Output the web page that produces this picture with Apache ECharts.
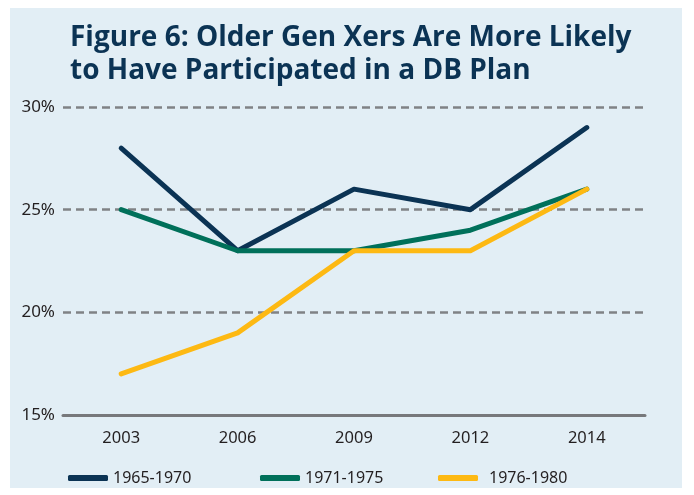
<!DOCTYPE html>
<html><head><meta charset="utf-8">
<script src="https://cdn.jsdelivr.net/npm/echarts@6/dist/echarts.min.js"></script>
<style>html,body{margin:0;padding:0;background:#fff}#c{width:694px;height:495px}</style>
</head><body><div id="c"></div>
<script>
const categories = ['2003','2006','2009','2012','2014'];
const s1965 = [28, 23, 26, 25, 29];
const s1971 = [25, 23, 23, 24, 26];
const s1976 = [17, 19, 23, 23, 26];
const seriesNames = ['1965-1970','1971-1975','1976-1980'];
const yTicks = {min: 15, max: 30, interval: 5};

const chart = echarts.init(document.getElementById('c'));
const colors = ['#0b3354', '#00705a', '#fdb913'];
const legendBase = {
  top: 465, itemWidth: 40, itemHeight: 6, icon: 'roundRect',
  textStyle: {fontFamily: 'Noto Sans', fontSize: 16, color: '#231f20'},
  selectedMode: false
};
chart.setOption({
  animation: false,
  graphic: [{type: 'rect', shape: {x: 10, y: 8, width: 672, height: 480}, style: {fill: '#e2eef5'}, z: -10}],
  title: {
    text: 'Figure 6: Older Gen Xers Are More Likely\nto Have Participated in a DB Plan',
    left: 65, top: 17,
    textStyle: {fontFamily: 'Open Sans', fontWeight: 700, fontSize: 28, color: '#0b3354', lineHeight: 33}
  },
  legend: [
    Object.assign({}, legendBase, {left: 63, data: [seriesNames[0]]}),
    Object.assign({}, legendBase, {left: 255, data: [seriesNames[1]]}),
    Object.assign({}, legendBase, {left: 433, data: [seriesNames[2]], textStyle: Object.assign({}, legendBase.textStyle, {padding: [0,0,0,6]})})
  ],
  grid: {left: 63, right: 49, top: 107, bottom: 80},
  xAxis: {
    type: 'category', data: categories, boundaryGap: true,
    axisLine: {lineStyle: {color: '#77787b', width: 3}},
    axisTick: {show: false},
    axisLabel: {fontFamily: 'Noto Sans', fontSize: 16.5, color: '#231f20', margin: 15}
  },
  yAxis: {
    type: 'value', min: yTicks.min, max: yTicks.max, interval: yTicks.interval,
    axisLine: {show: false}, axisTick: {show: false},
    axisLabel: {formatter: '{value}%', fontFamily: 'Noto Sans', fontSize: 17, color: '#231f20', margin: 8, padding: [8, 0, 0, 0]},
    splitLine: {showMinLine: false, lineStyle: {color: '#808285', width: 2.5, type: [8, 5]}}
  },
  series: [
    {name: seriesNames[0], type: 'line', data: s1965, color: colors[0]},
    {name: seriesNames[1], type: 'line', data: s1971, color: colors[1]},
    {name: seriesNames[2], type: 'line', data: s1976, color: colors[2]}
  ].map(s => Object.assign(s, {showSymbol: false, symbol: 'none', lineStyle: {width: 5, cap: 'round', join: 'round'}}))
});
</script></body></html>
